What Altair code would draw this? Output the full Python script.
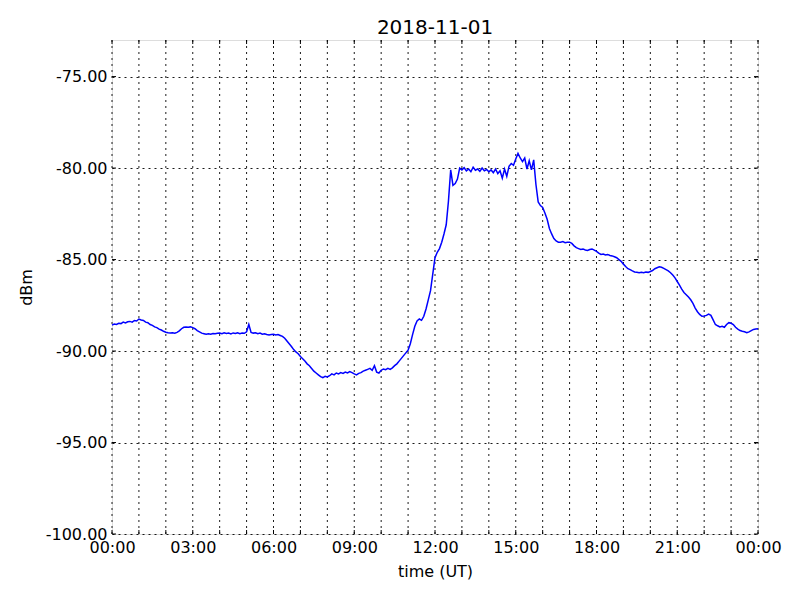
import altair as alt
import pandas as pd

# signal level, one value every 5 minutes from 00:00 to 24:00 (dBm)
dbm = [
    -88.58, -88.52, -88.55, -88.48, -88.50, -88.42, -88.46, -88.40, -88.38, -88.42, -88.33, -88.36,
    -88.25, -88.30, -88.33, -88.42, -88.45, -88.55, -88.60, -88.68, -88.72, -88.80, -88.85, -88.92,
    -88.97, -89.00, -89.02, -89.00, -89.03, -88.98, -88.90, -88.78, -88.70, -88.68, -88.70, -88.68,
    -88.72, -88.78, -88.88, -88.95, -89.02, -89.05, -89.08, -89.05, -89.08, -89.04, -89.06, -89.03,
    -89.02, -89.05, -89.00, -89.04, -89.02, -89.06, -89.01, -89.04, -89.00, -89.05, -89.02, -89.03,
    -88.95, -88.55, -88.98, -89.02, -89.00, -89.05, -89.02, -89.08, -89.06, -89.10, -89.12, -89.10,
    -89.08, -89.12, -89.10, -89.15, -89.20, -89.30, -89.45, -89.60, -89.75, -89.92, -90.05, -90.15,
    -90.30, -90.42, -90.55, -90.70, -90.80, -90.95, -91.10, -91.20, -91.30, -91.40, -91.45, -91.38,
    -91.42, -91.35, -91.25, -91.30, -91.20, -91.25, -91.18, -91.22, -91.15, -91.20, -91.12, -91.18,
    -91.25, -91.30, -91.22, -91.18, -91.10, -91.05, -91.00, -90.95, -91.05, -90.80, -91.15, -91.20,
    -91.05, -90.98, -91.02, -90.95, -91.00, -90.92, -90.80, -90.70, -90.55, -90.40, -90.25, -90.10,
    -89.95, -89.60, -89.10, -88.65, -88.35, -88.25, -88.32, -88.10, -87.70, -87.20, -86.70, -85.80,
    -84.90, -84.60, -84.40, -84.05, -83.60, -83.10, -81.80, -80.10, -80.95, -80.85, -80.60, -80.00,
    -80.10, -79.98, -80.15, -80.05, -80.20, -79.95, -80.12, -80.05, -80.18, -80.00, -80.15, -80.08,
    -80.20, -80.10, -80.25, -80.05, -80.30, -80.15, -80.55, -80.05, -80.45, -79.90, -79.75, -79.85,
    -79.50, -79.20, -79.45, -79.65, -79.45, -80.05, -79.60, -80.10, -79.55, -80.90, -81.85, -82.05,
    -82.15, -82.45, -82.80, -83.30, -83.60, -83.85, -83.98, -84.05, -84.05, -84.02, -84.08, -84.05,
    -84.05, -84.12, -84.25, -84.35, -84.40, -84.45, -84.42, -84.48, -84.50, -84.45, -84.42, -84.48,
    -84.55, -84.65, -84.72, -84.70, -84.75, -84.72, -84.78, -84.80, -84.85, -84.90, -85.00, -85.10,
    -85.25, -85.38, -85.50, -85.55, -85.62, -85.68, -85.70, -85.72, -85.70, -85.72, -85.68, -85.70,
    -85.65, -85.60, -85.50, -85.45, -85.40, -85.42, -85.48, -85.55, -85.62, -85.72, -85.85, -86.00,
    -86.20, -86.40, -86.62, -86.80, -86.92, -87.05, -87.20, -87.40, -87.65, -87.85, -88.00, -88.10,
    -88.08, -88.05, -87.98, -88.05, -88.30, -88.55, -88.62, -88.68, -88.65, -88.70, -88.55, -88.45,
    -88.48, -88.55, -88.70, -88.80, -88.88, -88.92, -88.95, -89.00, -88.95, -88.88, -88.82, -88.80,
    -88.78,
]
hours = [i / 12 for i in range(len(dbm))]

grid_hours = list(range(0, 25))          # hourly grid lines / ticks
label_hours = [0, 3, 6, 9, 12, 15, 18, 21, 24]
x_labels = ["00:00", "03:00", "06:00", "09:00", "12:00", "15:00", "18:00", "21:00", "00:00"]
y_ticks = [-100, -95, -90, -85, -80, -75]
y_labels = ["-100.00", "-95.00", "-90.00", "-85.00", "-80.00", "-75.00"]
x_domain = [0, 24]
y_domain = [-100, -73]

df = pd.DataFrame({"hour": hours, "dbm": dbm})
x_arr = "[" + ",".join("'%s'" % s for s in x_labels) + "]"
x_label_expr = x_arr + "[datum.value / 3]"
y_arr = "[" + ",".join("'%s'" % s for s in y_labels) + "]"
y_label_expr = y_arr + "[(datum.value + 100) / 5]"

FONT = "DejaVu Sans"
DASH = [2, 4]

xs = alt.Scale(domain=x_domain, nice=False, zero=False)
ys = alt.Scale(domain=y_domain, nice=False, zero=False)

x_axis = alt.Axis(values=label_hours, labelExpr=x_label_expr, grid=False, ticks=False, domain=False,
                  labelFont=FONT, labelFontSize=16, labelColor="black", labelPadding=5,
                  labelOverlap=False, labelFlush=False,
                  title="time (UT)", titleFont=FONT, titleFontSize=16, titleFontWeight="normal",
                  titleColor="black", titlePadding=8)
y_axis = alt.Axis(values=y_ticks, labelExpr=y_label_expr, grid=True, gridDash=DASH,
                  gridColor="black", gridWidth=0.9, gridOpacity=1, ticks=False, domain=False,
                  labelFont=FONT, labelFontSize=16, labelColor="black", labelPadding=5,
                  labelOverlap=False, labelFlush=False,
                  title="dBm", titleFont=FONT, titleFontSize=16, titleFontWeight="normal",
                  titleColor="black", titlePadding=11)

xt = pd.DataFrame({"hour": grid_hours})
yt = pd.DataFrame({"v": y_ticks})

vgrid = alt.Chart(xt).mark_rule(color="black", strokeWidth=0.9, strokeDash=DASH).encode(
    x=alt.X("hour:Q", scale=xs, axis=x_axis), y=alt.value(0), y2=alt.value(494))

line = alt.Chart(df).mark_line(color="#0000ff", strokeWidth=1.5).encode(
    x=alt.X("hour:Q", scale=xs, axis=x_axis),
    y=alt.Y("dbm:Q", scale=ys, axis=y_axis),
)

tick_len = 4
bottom_ticks = alt.Chart(xt).mark_rule(color="black", strokeWidth=1).encode(
    x=alt.X("hour:Q", scale=xs), y=alt.value(494), y2=alt.value(494 - tick_len))
top_ticks = alt.Chart(xt).mark_rule(color="black", strokeWidth=1).encode(
    x=alt.X("hour:Q", scale=xs), y=alt.value(0), y2=alt.value(tick_len))
left_ticks = alt.Chart(yt).mark_rule(color="black", strokeWidth=1).encode(
    y=alt.Y("v:Q", scale=ys), x=alt.value(0), x2=alt.value(tick_len))
right_ticks = alt.Chart(yt).mark_rule(color="black", strokeWidth=1).encode(
    y=alt.Y("v:Q", scale=ys), x=alt.value(646), x2=alt.value(646 - tick_len))

chart = alt.layer(vgrid, line, bottom_ticks, top_ticks, left_ticks, right_ticks).properties(
    width=646, height=494,
    title=alt.TitleParams("2018-11-01", font=FONT, fontSize=20, fontWeight="normal",
                          color="black", offset=2),
    autosize=alt.AutoSizeParams(type="none"),
    padding={"left": 104, "top": 32, "right": 34, "bottom": 58},
).configure_view(stroke="black", strokeWidth=1.2).configure(background="white")

chart.save("out.html", embed_options={"renderer": "svg", "actions": False})
